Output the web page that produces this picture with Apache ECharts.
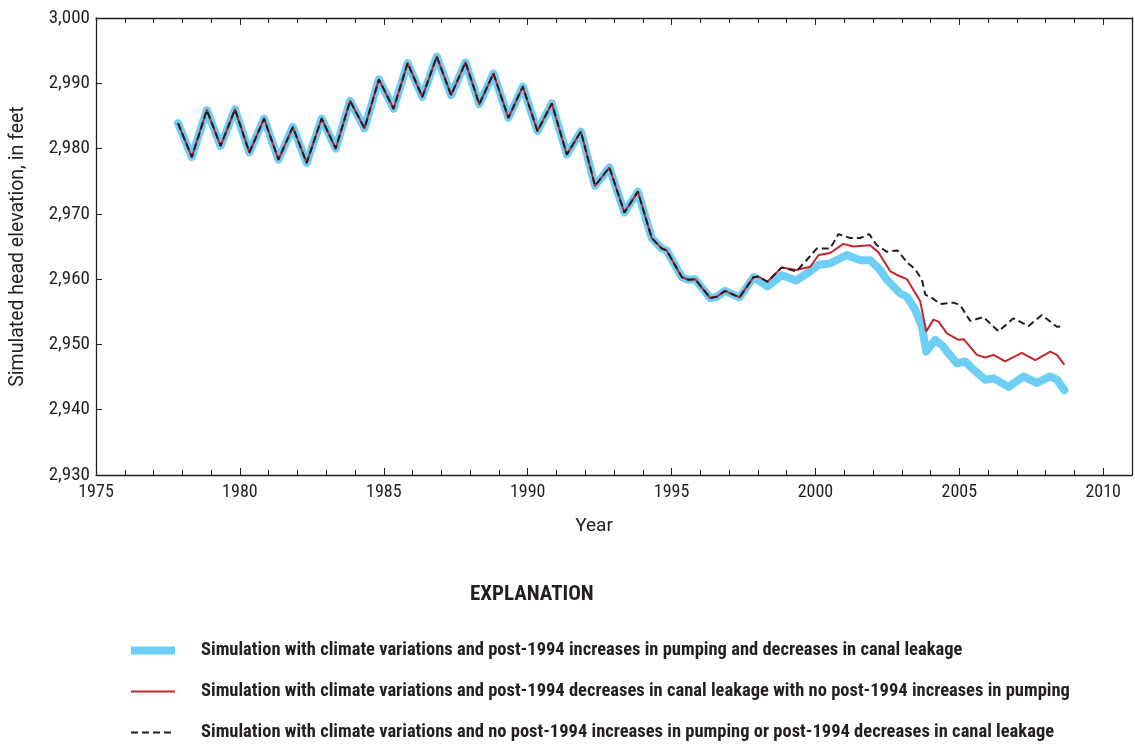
<!DOCTYPE html>
<html>
<head>
<meta charset="utf-8">
<script src="https://cdn.jsdelivr.net/npm/echarts@6/dist/echarts.min.js"></script>
<style>
  html, body { margin: 0; padding: 0; background: #fff; }
  #chart { width: 1135px; height: 744px; }
</style>
</head>
<body>
<div id="chart"></div>
<script>
// shared part, all three simulations identical until late 1997
var baseYears = [1977.85, 1978.33, 1978.85, 1979.33, 1979.83, 1980.33, 1980.84, 1981.34, 1981.84, 1982.32,
  1982.84, 1983.33, 1983.83, 1984.33, 1984.83, 1985.34, 1985.83, 1986.34, 1986.84, 1987.34,
  1987.84, 1988.32, 1988.81, 1989.33, 1989.83, 1990.34, 1990.84, 1991.36, 1991.85, 1992.34,
  1992.84, 1993.36, 1993.83, 1994.31, 1994.66, 1994.83, 1995.36, 1995.59, 1995.82, 1996.34,
  1996.57, 1996.86, 1997.36, 1997.85];
var baseHead = [2983.9, 2978.7, 2985.9, 2980.4, 2986.0, 2979.4, 2984.6, 2978.3, 2983.3, 2977.8,
  2984.6, 2980.0, 2987.3, 2983.1, 2990.6, 2986.1, 2993.1, 2987.9, 2994.1, 2988.2,
  2993.2, 2986.8, 2991.5, 2984.7, 2989.5, 2982.7, 2986.9, 2979.1, 2982.6, 2974.3,
  2977.1, 2970.2, 2973.4, 2966.3, 2964.7, 2964.4, 2960.3, 2959.9, 2960.0, 2957.1,
  2957.3, 2958.2, 2957.2, 2960.3];

// pumping increase + canal leakage decrease
var blueYears = [1998.33, 1998.83, 1999.33, 1999.82, 2000.11, 2000.51, 2001.09, 2001.56, 2001.90, 2002.25,
  2002.48, 2002.95, 2003.18, 2003.47, 2003.70, 2003.85, 2004.16, 2004.39, 2004.91, 2005.2,
  2005.43, 2005.90, 2006.19, 2006.71, 2007.23, 2007.69, 2008.16, 2008.39, 2008.65];
var blueHead = [2958.9, 2960.6, 2959.8, 2961.2, 2962.2, 2962.4, 2963.7, 2962.9, 2962.9, 2961.4,
  2959.9, 2957.8, 2957.3, 2955.3, 2952.7, 2948.9, 2950.7, 2949.9, 2947.1, 2947.4,
  2946.4, 2944.6, 2944.8, 2943.5, 2945.1, 2944.1, 2945.1, 2944.6, 2943.0];

// canal leakage decrease only
var redYears = [1998.02, 1998.33, 1998.83, 1999.33, 1999.82, 2000.11, 2000.51, 2000.97, 2001.32, 2001.90,
  2002.19, 2002.6, 2002.85, 2003.18, 2003.64, 2003.85, 2004.10, 2004.28, 2004.57, 2004.97,
  2005.15, 2005.61, 2005.90, 2006.19, 2006.59, 2007.17, 2007.64, 2008.16, 2008.39, 2008.65];
var redHead = [2960.4, 2959.6, 2961.8, 2961.4, 2961.9, 2963.7, 2964.0, 2965.4, 2965.0, 2965.2,
  2964.1, 2961.2, 2960.6, 2960.0, 2956.6, 2952.0, 2953.8, 2953.5, 2951.7, 2950.7,
  2950.8, 2948.4, 2948.0, 2948.4, 2947.4, 2948.7, 2947.6, 2948.9, 2948.4, 2946.9];

// no post-1994 changes
var blackYears = [1998.02, 1998.33, 1998.83, 1999.33, 1999.59, 2000.05, 2000.51, 2000.80, 2001.21, 2001.56,
  2001.87, 2002.13, 2002.48, 2002.85, 2003.2, 2003.47, 2003.70, 2003.82, 2003.99, 2004.34,
  2004.80, 2005.03, 2005.38, 2005.84, 2006.36, 2006.88, 2007.40, 2007.87, 2008.39, 2008.62];
var blackHead = [2960.4, 2959.6, 2961.8, 2961.2, 2962.4, 2964.7, 2964.7, 2966.9, 2966.3, 2966.3,
  2966.9, 2965.2, 2964.2, 2964.4, 2962.5, 2961.5, 2959.9, 2957.6, 2957.3, 2956.2,
  2956.4, 2956.0, 2953.6, 2954.2, 2952.0, 2954.0, 2952.8, 2954.5, 2952.7, 2952.8];

var names = [
  'Simulation with climate variations and post-1994 increases in pumping and decreases in canal leakage',
  'Simulation with climate variations and post-1994 decreases in canal leakage with no post-1994 increases in pumping',
  'Simulation with climate variations and no post-1994 increases in pumping or post-1994 decreases in canal leakage'
];

function pairs(years, vals) {
  var out = [];
  for (var i = 0; i < years.length; i++) out.push([years[i], vals[i]]);
  return out;
}
var baseData = pairs(baseYears, baseHead);

var NARROW = '"Liberation Sans Narrow", "Roboto Condensed", "DejaVu Sans Condensed", "Arial Narrow", sans-serif';
var PLAIN = 'Roboto, "Liberation Sans", sans-serif';
var INK = '#231f20';

var chart = echarts.init(document.getElementById('chart'));
var option = {
  backgroundColor: '#fff',
  animation: false,
  textStyle: { fontFamily: NARROW, color: INK },
  title: {
    text: 'EXPLANATION',
    left: 470, top: 584, padding: 0,
    textStyle: { fontFamily: NARROW, fontSize: 21, fontWeight: 'bold', color: INK }
  },
  legend: {
    orient: 'vertical',
    left: 127, top: 641, padding: 0,
    itemWidth: 44, itemHeight: 20, itemGap: 22,
    data: names,
    itemStyle: { opacity: 0 },
    lineStyle: { width: 'inherit', cap: 'butt' },
    textStyle: { fontFamily: NARROW, fontSize: 18.5, fontWeight: 'bold', color: INK, padding: [0, 0, 0, 21] }
  },
  grid: { left: 96, right: 2, top: 18, bottom: 269, containLabel: false },
  xAxis: [{
    type: 'value', min: 1975, max: 2011, interval: 5,
    name: 'Year', nameLocation: 'middle', nameGap: 42,
    nameTextStyle: { fontFamily: PLAIN, fontSize: 19, color: INK, padding: [0, 40, 0, 0] },
    axisLine: { lineStyle: { color: INK, width: 1.3 } },
    axisTick: { inside: true, length: 7, lineStyle: { color: INK } },
    minorTick: { show: true, splitNumber: 5, length: 5, lineStyle: { color: INK } },
    axisLabel: {
      margin: 8, fontSize: 18, color: INK, fontFamily: NARROW,
      formatter: function (v) { return v % 5 === 0 ? String(v) : ''; }
    },
    splitLine: { show: false }
  }, {
    type: 'value', position: 'top', min: 1975, max: 2011, interval: 5,
    axisLine: { lineStyle: { color: INK, width: 1.3 } },
    axisTick: { inside: true, length: 7, lineStyle: { color: INK } },
    minorTick: { show: true, splitNumber: 5, length: 5, lineStyle: { color: INK } },
    axisLabel: { show: false },
    splitLine: { show: false }
  }],
  yAxis: [{
    type: 'value', min: 2930, max: 3000, interval: 10,
    name: 'Simulated head elevation, in feet', nameLocation: 'middle', nameGap: 68,
    nameTextStyle: { fontFamily: PLAIN, fontSize: 19.5, color: INK },
    axisLine: { show: true, lineStyle: { color: INK, width: 1.3 } },
    axisTick: { show: true, inside: true, length: 6, lineStyle: { color: INK } },
    axisLabel: {
      margin: 6, fontSize: 19, color: INK, fontFamily: NARROW,
      formatter: function (v) { return v.toLocaleString('en-US'); }
    },
    splitLine: { show: false }
  }, {
    type: 'value', position: 'right', min: 2930, max: 3000,
    axisLine: { show: true, lineStyle: { color: INK, width: 1.3 } },
    axisTick: { show: false }, axisLabel: { show: false }, splitLine: { show: false }
  }],
  series: [{
    name: names[0], type: 'line', symbol: 'none',
    data: baseData.concat(pairs(blueYears, blueHead)),
    lineStyle: { color: '#6dcff6', width: 8, cap: 'round', join: 'round' },
    itemStyle: { color: '#6dcff6' },
    z: 1
  }, {
    name: names[1], type: 'line', symbol: 'none',
    data: baseData.concat(pairs(redYears, redHead)),
    lineStyle: { color: '#c1272d', width: 2, join: 'round' },
    itemStyle: { color: '#c1272d' },
    z: 2
  }, {
    name: names[2], type: 'line', symbol: 'none',
    data: baseData.concat(pairs(blackYears, blackHead)),
    lineStyle: { color: INK, width: 2, type: [7, 4] },
    itemStyle: { color: INK },
    z: 3
  }]
};
chart.setOption(option);
</script>
</body>
</html>
